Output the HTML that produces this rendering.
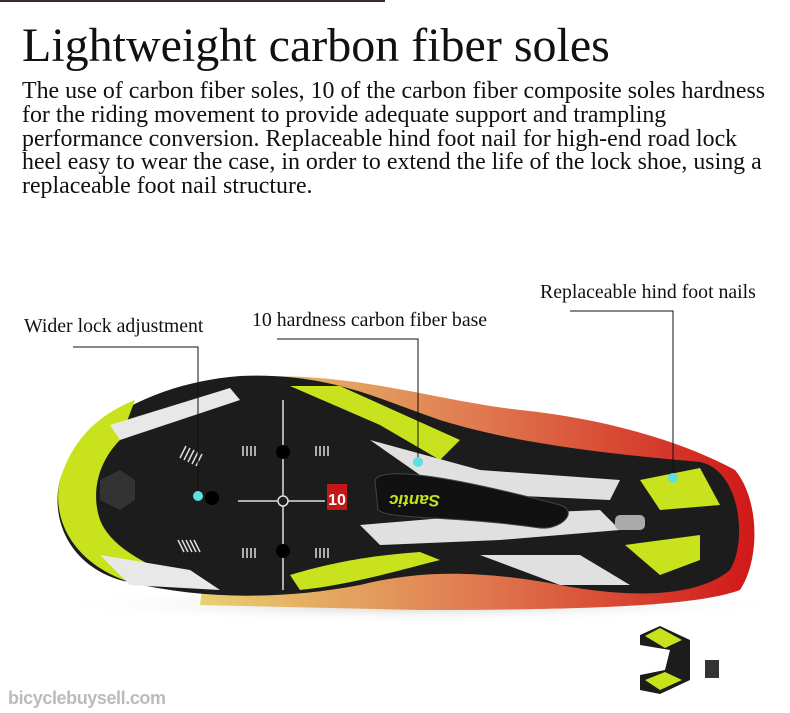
<!DOCTYPE html>
<html><head><meta charset="utf-8"><style>
html,body{margin:0;padding:0;background:#fff;}
body{width:790px;height:713px;position:relative;overflow:hidden;font-family:"Liberation Serif",serif;color:#111;}
.t{position:absolute;white-space:nowrap;}
</style></head><body>
<div style="position:absolute;left:0;top:0;width:385px;height:2px;background:#3a2a2a"></div>
<div class="t" style="left:22px;top:18px;font-size:48px;line-height:56px;">Lightweight carbon fiber soles</div>
<div class="t" style="left:22px;top:80px;font-size:23.9px;line-height:23.8px;">The use of carbon fiber soles, 10 of the carbon fiber composite soles hardness<br>for the riding movement to provide adequate support and trampling<br>performance conversion. Replaceable hind foot nail for high-end road lock<br>heel easy to wear the case, in order to extend the life of the lock shoe, using a<br>replaceable foot nail structure.</div>
<div class="t" style="left:24px;top:315px;font-size:19.8px;">Wider lock adjustment</div>
<div class="t" style="left:252px;top:309px;font-size:19.8px;">10 hardness carbon fiber base</div>
<div class="t" style="left:540px;top:281px;font-size:19.8px;">Replaceable hind foot nails</div>
<svg width="790" height="713" style="position:absolute;left:0;top:0">
<defs><linearGradient id="up" x1="0" x2="1"><stop offset="0" stop-color="#e8d070"/><stop offset=".5" stop-color="#e07a50"/><stop offset="1" stop-color="#d01818"/></linearGradient>
<radialGradient id="sh"><stop offset="0" stop-color="#999" stop-opacity=".5"/><stop offset="1" stop-color="#fff" stop-opacity="0"/></radialGradient></defs>
<ellipse cx="420" cy="605" rx="370" ry="18" fill="url(#sh)"/>
<path d="M230 380 C330 365 430 400 520 410 C600 418 680 440 735 470 C760 500 760 560 740 590 C700 605 600 610 420 610 L200 605 Z" fill="url(#up)"/>
<path d="M60 480 C80 420 160 382 240 376 C330 372 380 400 440 420 C520 445 620 455 700 462 C740 470 748 540 730 570 C700 595 640 600 560 585 C480 570 420 570 360 585 C280 600 200 600 120 580 C70 565 50 520 60 480 Z" fill="#1c1c1c"/>
<path d="M60 480 C75 430 110 410 135 400 L120 440 C100 460 90 490 100 520 C110 545 140 560 160 570 L140 585 C80 570 50 525 60 480Z" fill="#c8e21e"/>
<path d="M290 386 L340 386 L460 440 L440 460 L380 425 Z" fill="#c8e21e"/>
<path d="M290 575 C340 560 380 555 420 552 L440 560 C400 570 350 585 300 590 Z" fill="#c8e21e"/>
<path d="M640 480 L700 468 L720 505 L660 510 Z" fill="#c8e21e"/>
<path d="M625 545 L700 535 L700 560 L660 575 Z" fill="#c8e21e"/>
<path d="M110 425 L230 388 L240 400 L120 440Z" fill="#e8e8e8"/>
<path d="M100 555 L190 570 L220 590 L130 585Z" fill="#e8e8e8"/>
<path d="M370 440 L480 470 L620 480 L610 500 L500 495 L420 475 Z" fill="#e0e0e0"/>
<path d="M360 525 L480 515 L600 510 L620 530 L500 540 L380 545 Z" fill="#e0e0e0"/>
<path d="M480 555 L580 555 L630 585 L560 585Z" fill="#e0e0e0"/>
<path d="M375 480 C380 470 420 468 560 505 C580 512 560 530 540 528 C450 515 390 520 378 510 Z" fill="#111" stroke="#444"/>
<rect x="615" y="515" width="30" height="15" rx="5" fill="#aaa"/>
<text x="440" y="505" font-family="Liberation Sans,sans-serif" font-style="italic" font-weight="bold" font-size="17" fill="#c8e21e" transform="rotate(180 440 500)">Santic</text>
<rect x="327" y="484" width="20" height="26" fill="#c41818"/>
<text x="337" y="505" font-family="Liberation Sans,sans-serif" font-weight="bold" font-size="16" fill="#fff" text-anchor="middle">10</text>
<line x1="283" y1="400" x2="283" y2="590" stroke="#ddd" stroke-width="1.5"/>
<line x1="238" y1="501" x2="325" y2="501" stroke="#ddd" stroke-width="1.5"/>
<circle cx="283" cy="501" r="5" fill="#1c1c1c" stroke="#ddd" stroke-width="1.5"/>
<circle cx="283" cy="452" r="7" fill="#000"/><circle cx="283" cy="551" r="7" fill="#000"/><circle cx="212" cy="498" r="7" fill="#000"/>
<path d="M100 480 L120 470 L135 480 L135 500 L120 510 L100 500Z" fill="#333"/>
<g stroke="#ddd" stroke-width="1.5">
<path d="M180 458 l6 -12 M184 460 l6 -12 M188 462 l6 -12 M192 464 l6 -12 M196 466 l6 -12"/>
<path d="M178 540 l6 12 M182 540 l6 12 M186 540 l6 12 M190 540 l6 12 M194 540 l6 12"/>
<path d="M243 446v10M247 446v10M251 446v10M255 446v10M316 446v10M320 446v10M324 446v10M328 446v10"/>
<path d="M243 548v10M247 548v10M251 548v10M255 548v10M316 548v10M320 548v10M324 548v10M328 548v10"/>
</g>
<g stroke="#111" stroke-width="1" fill="none">
<path d="M73 347 H198 V496"/>
<path d="M277 339 H418 V462"/>
<path d="M570 311 H673 V478"/>
</g>
<g fill="#5ee0e0"><circle cx="198" cy="496" r="5"/><circle cx="418" cy="462" r="5"/><circle cx="673" cy="478" r="5"/></g>
<path d="M640 635 L660 626 L690 640 L690 680 L660 694 L640 690 L640 675 L665 670 L670 650 L640 645Z" fill="#1c1c1c"/>
<path d="M645 636 L660 628 L682 640 L665 648 Z M645 680 L665 672 L682 680 L660 690Z" fill="#c8e21e"/>
<rect x="705" y="660" width="14" height="18" fill="#333"/>
<text x="8" y="704" font-family="Liberation Sans,sans-serif" font-weight="bold" font-size="18" fill="#bbb" textLength="158">bicyclebuysell.com</text>
</svg>
</body></html>
